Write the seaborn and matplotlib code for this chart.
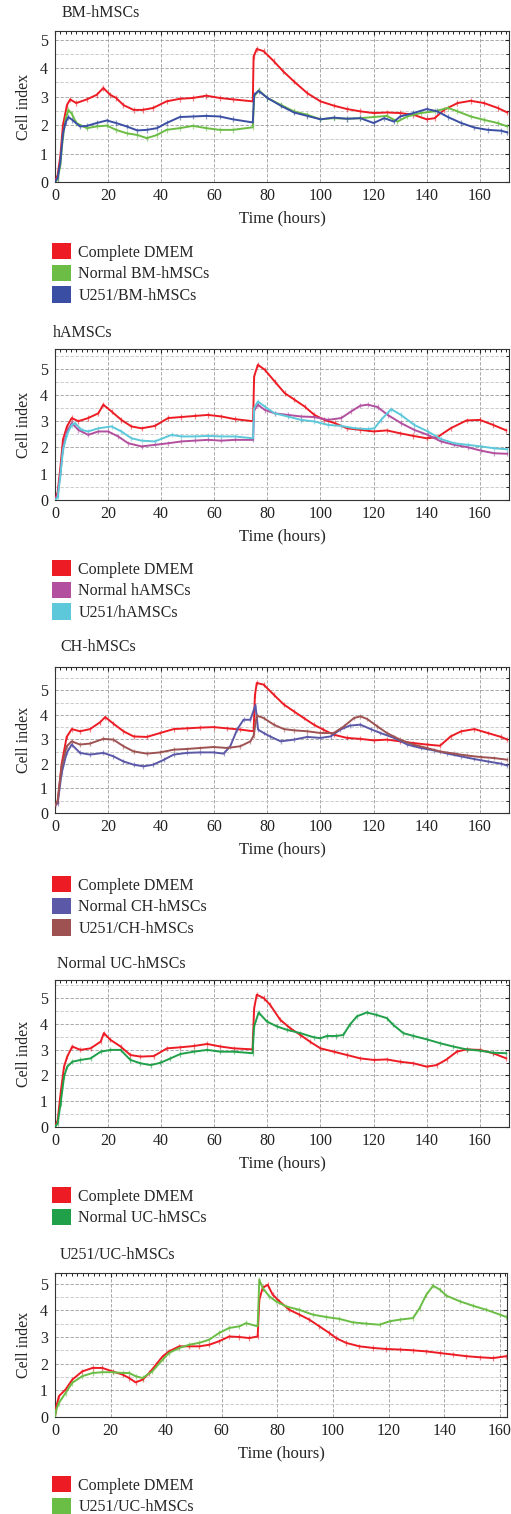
import matplotlib
matplotlib.use("Agg")
import matplotlib.pyplot as plt
from matplotlib.patches import Patch
from matplotlib.ticker import MultipleLocator
import seaborn as sns

# (time in hours, cell index)
bm_dmem = [(0, 0), (1, 0.25), (2, 0.9), (3, 2.0), (4.5, 2.7), (5.7, 2.9), (8, 2.77), (12, 2.9), (15.7, 3.06),
           (18.2, 3.3), (20.8, 3.06), (23, 2.95), (25.8, 2.7), (29.6, 2.53), (33, 2.53), (37, 2.6), (42, 2.83),
           (47, 2.92), (52, 2.95), (57, 3.03), (62, 2.95), (67, 2.9), (74.5, 2.83), (74.8, 4.4), (76, 4.67),
           (78.6, 4.59), (82.4, 4.24), (86, 3.88), (90, 3.53), (95, 3.12), (100, 2.83), (105, 2.68), (110, 2.56),
           (115, 2.48), (120, 2.42), (125, 2.44), (130, 2.42), (135, 2.36), (140, 2.2), (143, 2.24), (146.5, 2.53),
           (151.6, 2.77), (156.6, 2.85), (161.6, 2.77), (166.7, 2.6), (170.4, 2.44)]
bm_normal = [(0, 0), (1, 0.1), (2, 0.6), (3, 1.6), (4, 2.2), (5, 2.53), (6.3, 2.4), (8, 2.07), (12, 1.89), (15.7, 1.95),
             (19.5, 1.98), (23, 1.83), (27, 1.71), (31, 1.65), (34.6, 1.54), (38.4, 1.65), (42, 1.83), (47, 1.89),
             (52, 1.97), (57, 1.89), (62, 1.83), (67, 1.83), (74.5, 1.92), (75, 3.0), (76.7, 3.22), (80, 2.95),
             (85, 2.71), (90, 2.48), (95, 2.36), (100, 2.2), (105, 2.24), (110, 2.22), (115, 2.24), (120, 2.28),
             (125, 2.32), (129, 2.12), (132.7, 2.3), (137.7, 2.42), (143, 2.48), (148, 2.6), (151.6, 2.48),
             (156.6, 2.3), (161.6, 2.18), (166.7, 2.07), (170.4, 1.95)]
bm_u251 = [(0, 0), (1, 0.15), (2, 0.7), (3, 1.7), (4, 2.1), (5, 2.28), (6.5, 2.18), (9.4, 1.95), (12, 1.97), (15.7, 2.07),
           (19.5, 2.16), (23, 2.07), (27, 1.95), (31, 1.81), (34.6, 1.83), (38.4, 1.89), (42, 2.07), (47, 2.28),
           (52, 2.3), (57, 2.32), (62, 2.3), (67, 2.2), (74.5, 2.09), (75, 3.06), (76.7, 3.2), (80, 2.95), (85, 2.68),
           (90, 2.44), (95, 2.32), (100, 2.2), (105, 2.26), (110, 2.22), (115, 2.24), (120, 2.07), (124, 2.24),
           (127.7, 2.12), (130, 2.3), (135, 2.42), (140, 2.56), (144, 2.48), (148, 2.28), (153, 2.07), (158, 1.91),
           (163, 1.83), (168, 1.8), (170.4, 1.74)]

ha_dmem = [(0, 0), (1, 0.3), (2, 1.2), (3, 2.3), (4.5, 2.8), (6.3, 3.12), (8.8, 3.0), (12.5, 3.12), (16.3, 3.3),
           (18.2, 3.63), (21.3, 3.37), (25, 3.05), (28.8, 2.8), (32.6, 2.73), (37.6, 2.82), (42.6, 3.12), (47.6, 3.16),
           (52.6, 3.2), (57.6, 3.24), (62.7, 3.18), (67.7, 3.08), (74.6, 3.0), (75, 4.7), (76.4, 5.15), (79, 4.96),
           (82.7, 4.52), (86.5, 4.07), (90.2, 3.82), (94, 3.56), (97.7, 3.24), (101.5, 3.05), (105.3, 2.93),
           (110, 2.73), (115, 2.67), (120, 2.61), (125, 2.65), (130, 2.54), (135, 2.44), (140, 2.35), (144, 2.39),
           (149, 2.73), (155, 3.03), (160, 3.05), (165, 2.86), (170, 2.65)]
ha_normal = [(0, 0), (1, 0.2), (2, 1.0), (3, 2.0), (4.5, 2.6), (6.3, 2.93), (8.8, 2.67), (12.5, 2.48), (16.3, 2.61),
             (20, 2.61), (23.8, 2.42), (27.6, 2.16), (32.6, 2.04), (37.6, 2.1), (42.6, 2.16), (47.6, 2.23),
             (52.6, 2.26), (57.6, 2.29), (62.7, 2.26), (67.7, 2.29), (74.6, 2.29), (75, 3.4), (76.4, 3.63), (79, 3.43),
             (82.7, 3.3), (87.7, 3.24), (92.7, 3.18), (97.7, 3.16), (102.8, 3.05), (107.8, 3.12), (111.5, 3.37),
             (115, 3.59), (117.8, 3.63), (121.5, 3.54), (125.3, 3.24), (130.3, 2.93), (135.3, 2.67), (140.4, 2.48),
             (145.4, 2.23), (150.4, 2.1), (155.4, 2.01), (160.4, 1.88), (165.4, 1.78), (170.4, 1.76)]
ha_u251 = [(0, 0), (1, 0.1), (2, 0.9), (3, 1.9), (4.5, 2.5), (6.3, 2.86), (7.5, 2.93), (10, 2.67), (12.5, 2.61),
           (16.3, 2.73), (21.3, 2.8), (25, 2.61), (28.8, 2.35), (32.6, 2.26), (37.6, 2.23), (43.9, 2.48), (47.6, 2.42),
           (52.6, 2.42), (57.6, 2.44), (62.7, 2.42), (67.7, 2.42), (74.6, 2.35), (75, 3.5), (76.4, 3.75), (79, 3.56),
           (82.7, 3.3), (87.7, 3.18), (92.7, 3.05), (97.7, 2.99), (102.8, 2.86), (107.8, 2.82), (113, 2.73),
           (117.8, 2.7), (120.3, 2.73), (122.8, 3.05), (126.6, 3.46), (130.3, 3.24), (135.3, 2.86), (140.4, 2.61),
           (145.4, 2.32), (150.4, 2.16), (155.4, 2.1), (160.4, 2.04), (165.4, 1.97), (170.4, 1.93)]

ch_dmem = [(0, 0.3), (1, 0.45), (2.5, 2.0), (4.4, 3.1), (6.3, 3.42), (9.4, 3.33), (13.2, 3.42), (17, 3.7), (18.9, 3.91),
           (22, 3.64), (25.8, 3.33), (29.6, 3.12), (34.6, 3.1), (39.6, 3.26), (44.7, 3.42), (49.7, 3.45), (54.7, 3.48),
           (59.7, 3.5), (64.8, 3.45), (69.8, 3.4), (74.8, 3.33), (75.3, 4.8), (76, 5.3), (78.6, 5.23), (82.4, 4.82),
           (86.2, 4.42), (90, 4.14), (93.7, 3.87), (97.5, 3.6), (101, 3.4), (105, 3.19), (110, 3.06), (115, 3.02),
           (120, 2.96), (125, 2.99), (130, 2.92), (135, 2.85), (140, 2.79), (145, 2.74), (149, 3.12), (153, 3.33),
           (158, 3.42), (163, 3.26), (168, 3.1), (170.4, 2.99)]
ch_normal = [(0, 0.3), (1, 0.4), (2.5, 1.63), (4.4, 2.45), (6.3, 2.79), (9.4, 2.45), (13.2, 2.38), (18.2, 2.45),
             (22, 2.31), (25.8, 2.1), (29.6, 1.97), (33.3, 1.9), (37, 1.97), (41, 2.17), (44.7, 2.38), (49.7, 2.45),
             (54.7, 2.47), (59.7, 2.47), (63.5, 2.42), (66, 2.72), (68.6, 3.4), (71, 3.8), (73.6, 3.8), (75.5, 4.4),
             (76.5, 3.4), (78.6, 3.26), (81, 3.12), (85, 2.92), (90, 2.99), (95, 3.1), (100, 3.06), (103.8, 3.12),
             (107.5, 3.4), (111, 3.56), (115, 3.6), (118.9, 3.42), (122.6, 3.26), (127.7, 3.06), (132.7, 2.79),
             (137.7, 2.65), (142.8, 2.55), (147.8, 2.42), (152.8, 2.31), (157.9, 2.2), (163, 2.1), (168, 2.01),
             (170.4, 1.93)]
ch_u251 = [(0, 0.3), (1, 0.5), (2.5, 1.9), (4.4, 2.72), (6.3, 2.92), (9.4, 2.79), (13.2, 2.83), (18.2, 3.02), (22, 2.99),
           (25.8, 2.72), (29.6, 2.51), (34.6, 2.42), (39.6, 2.47), (44.7, 2.58), (49.7, 2.61), (54.7, 2.65),
           (59.7, 2.69), (64.8, 2.65), (69.8, 2.72), (73.6, 2.92), (74.8, 3.15), (76, 3.97), (78.6, 3.87), (82.4, 3.6),
           (86.2, 3.42), (90, 3.37), (95, 3.33), (100, 3.26), (105, 3.26), (108.8, 3.53), (112.6, 3.87), (115, 3.94),
           (117.6, 3.83), (121.4, 3.53), (125, 3.26), (130, 2.99), (135, 2.79), (140, 2.65), (145, 2.51),
           (150.3, 2.42), (155.3, 2.34), (160.4, 2.28), (165.4, 2.24), (170.4, 2.17)]

uc_dmem = [(0, 0), (1, 0.26), (2.1, 1.3), (3.4, 2.34), (4.6, 2.73), (6.5, 3.12), (9.6, 2.99), (13.4, 3.05), (17.2, 3.31),
           (18.4, 3.64), (20.9, 3.38), (24.7, 3.12), (28.4, 2.79), (32.2, 2.73), (37.2, 2.75), (42.2, 3.05),
           (47.2, 3.09), (52.3, 3.14), (57.3, 3.22), (62.3, 3.12), (67.3, 3.05), (74.4, 3.01), (75, 4.6), (76, 5.13),
           (78.6, 5.0), (81, 4.74), (84.8, 4.16), (88.6, 3.83), (92.4, 3.57), (96, 3.31), (100, 3.05), (105, 2.92),
           (110, 2.79), (115, 2.66), (120, 2.6), (125, 2.62), (130, 2.53), (135, 2.47), (140, 2.34), (143.7, 2.4),
           (147.5, 2.62), (151.3, 2.92), (155, 3.01), (160, 2.99), (165, 2.86), (170, 2.66)]
uc_normal = [(0, 0), (1, 0.15), (2.1, 0.9), (3.4, 1.95), (4.6, 2.34), (6.5, 2.53), (9.6, 2.6), (13.4, 2.66),
             (17.2, 2.92), (20.9, 2.99), (24.7, 2.99), (28.4, 2.6), (32.2, 2.47), (36, 2.4), (39.7, 2.49), (43.5, 2.66),
             (47.2, 2.83), (52.3, 2.92), (57.3, 2.99), (62.3, 2.92), (67.3, 2.92), (74.4, 2.86), (75, 3.9),
             (76.7, 4.44), (79.8, 4.09), (83.6, 3.9), (87.3, 3.77), (92.4, 3.64), (97.4, 3.48), (100, 3.44),
             (102.4, 3.53), (106, 3.53), (108.6, 3.57), (111, 3.96), (113.7, 4.29), (117.4, 4.44), (121, 4.35),
             (125, 4.22), (127.4, 3.96), (131.2, 3.64), (135, 3.53), (140, 3.4), (145, 3.25), (150, 3.12), (155, 3.01),
             (160, 2.96), (165, 2.88), (170, 2.86)]

u251uc_dmem = [(0, 0), (0.2, 0.27), (1.4, 0.78), (3.8, 1.03), (6.2, 1.4), (9.8, 1.71), (13.5, 1.84), (17, 1.84),
               (20.7, 1.71), (24.3, 1.59), (26.7, 1.46), (29, 1.3), (31.5, 1.4), (33.9, 1.65), (36.3, 1.96),
               (38.7, 2.27), (41, 2.46), (44.7, 2.65), (48.3, 2.65), (51.9, 2.65), (55.5, 2.71), (59, 2.84),
               (62.7, 3.02), (66.3, 3.0), (69.9, 2.96), (72.9, 3.02), (73.5, 4.4), (74.7, 4.84), (76.5, 4.96),
               (78.3, 4.59), (80.7, 4.34), (84.3, 4.02), (87.9, 3.84), (91.5, 3.65), (95.1, 3.4), (98.7, 3.15),
               (101.1, 2.96), (104.7, 2.78), (109.5, 2.65), (114.4, 2.59), (119.2, 2.55), (124, 2.53), (128.8, 2.5),
               (133.6, 2.46), (138.4, 2.4), (143.2, 2.34), (148, 2.28), (152.8, 2.24), (157.6, 2.21), (162.4, 2.28)]
u251uc_cells = [(0, 0), (0.2, 0.2), (1.4, 0.53), (3.8, 0.9), (6.2, 1.28), (9.8, 1.53), (13.5, 1.65), (17, 1.68),
                (20.7, 1.68), (24.3, 1.65), (26.7, 1.65), (29, 1.53), (31.5, 1.46), (35, 1.71), (38.7, 2.15),
                (41, 2.4), (44.7, 2.59), (48.3, 2.71), (51.9, 2.78), (55.5, 2.9), (59, 3.15), (62.7, 3.34),
                (66.3, 3.4), (68.7, 3.52), (72.9, 3.4), (73.5, 5.15), (74.7, 4.84), (77.1, 4.52), (79.5, 4.34),
                (83, 4.15), (87.9, 4.02), (92.7, 3.84), (97.5, 3.75), (102.3, 3.68), (107.1, 3.55), (112, 3.5),
                (116.8, 3.46), (120.4, 3.59), (124, 3.65), (128.8, 3.71), (131.2, 4.09), (133.6, 4.59), (136, 4.92),
                (138.4, 4.78), (140.8, 4.55), (145.6, 4.34), (150.4, 4.17), (155.2, 4.02), (160, 3.84), (162.4, 3.75)]

titles = ["BM-hMSCs", "hAMSCs", "CH-hMSCs", "Normal UC-hMSCs", "U251/UC-hMSCs"]
labels = [["Complete DMEM", "Normal BM-hMSCs", "U251/BM-hMSCs"],
          ["Complete DMEM", "Normal hAMSCs", "U251/hAMSCs"],
          ["Complete DMEM", "Normal CH-hMSCs", "U251/CH-hMSCs"],
          ["Complete DMEM", "Normal UC-hMSCs"],
          ["Complete DMEM", "U251/UC-hMSCs"]]
series = [[bm_dmem, bm_normal, bm_u251],
          [ha_dmem, ha_normal, ha_u251],
          [ch_dmem, ch_normal, ch_u251],
          [uc_dmem, uc_normal],
          [u251uc_dmem, u251uc_cells]]
colors = [["#ED1C24", "#6CBD45", "#3A4FA3"],
          ["#ED1C24", "#B24F9F", "#5CC8DA"],
          ["#ED1C24", "#5B58A8", "#9E5352"],
          ["#ED1C24", "#21A04A"],
          ["#ED1C24", "#6ABD45"]]

# layout in pixels (figure is 511 x 1514)
W, H = 511, 1514
axes_px = [(55, 31, 509, 182), (55, 349, 509, 500), (55, 667, 509, 813),
           (55, 980, 509, 1127), (55, 1273, 507, 1417)]
title_px = [(62, 13), (53, 333), (60, 647), (57, 964), (60, 1255)]
legend_top = [243, 560, 876, 1187, 1476]
ylims = [5.3, 5.75, 5.95, 5.7, 5.4]
xlims = [171, 171, 171, 171, 162.6]

sns.set_theme(style="white")
plt.rcParams["font.family"] = ["Liberation Serif", "DejaVu Serif"]

fig = plt.figure(figsize=(W / 100, H / 100), dpi=100)

for i in range(5):
    l, t, r, b = axes_px[i]
    ax = fig.add_axes([l / W, 1 - b / H, (r - l) / W, (b - t) / H])
    for pts, col in zip(series[i], colors[i]):
        xs = [p[0] for p in pts]
        ys = [p[1] for p in pts]
        ax.errorbar(xs, ys, yerr=0.1, fmt="none", ecolor=col, elinewidth=0.9, alpha=0.55, zorder=2)
        sns.lineplot(x=xs, y=ys, color=col, lw=1.4, ax=ax, legend=False, errorbar=None, sort=False, zorder=3)

    ax.set_xlim(0, xlims[i])
    ax.set_ylim(0, ylims[i])
    ax.xaxis.set_major_locator(MultipleLocator(20))
    ax.yaxis.set_major_locator(MultipleLocator(1))
    ax.xaxis.set_minor_locator(MultipleLocator(2))
    ax.yaxis.set_minor_locator(MultipleLocator(0.5))
    ax.grid(True, which="major", color="#9a9a9a", ls=(0, (4, 2)), lw=0.6)
    ax.yaxis.grid(True, which="minor", color="#c4c4c4", ls=(0, (4, 2)), lw=0.6)
    ax.xaxis.grid(False, which="minor")
    ax.tick_params(which="both", direction="in", top=True, right=True, labelsize=11.5, colors="#222222")
    ax.tick_params(axis="x", pad=4)
    ax.tick_params(axis="y", pad=5)
    ax.tick_params(which="major", length=3, width=0.8)
    ax.tick_params(which="minor", length=2, width=0.7)
    for sp in ax.spines.values():
        sp.set_color("#333333")
        sp.set_linewidth(0.8)
    ax.set_xlabel("Time (hours)", fontsize=12, labelpad=5)
    ax.set_ylabel("Cell index", fontsize=11.5, labelpad=6)

    tx, ty = title_px[i]
    fig.text(tx / W, 1 - ty / H, titles[i], fontsize=11.5, va="center", ha="left")

    handles = [Patch(facecolor=c, edgecolor="none") for c in colors[i]]
    ax.legend(handles, labels[i], loc="upper left", bbox_to_anchor=(52 / W, 1 - legend_top[i] / H),
              bbox_transform=fig.transFigure, frameon=False, fontsize=11.5,
              handlelength=1.2, handleheight=1.2, handletextpad=0.45, labelspacing=0.25,
              borderaxespad=0, borderpad=0)

fig.savefig("out.png", dpi=100)
